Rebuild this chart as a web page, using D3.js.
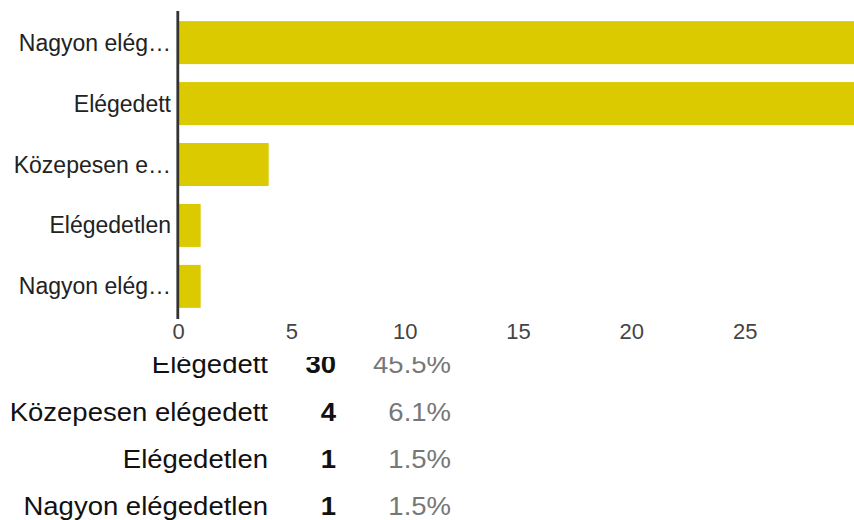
<!DOCTYPE html>
<html><head><meta charset="utf-8">
<script src="https://cdn.jsdelivr.net/npm/d3@7"></script>
<style>html,body{margin:0;padding:0;background:#fff;overflow:hidden}svg{display:block;font-family:"Liberation Sans",Arial,sans-serif}</style>
</head><body>
<svg id="c" width="854" height="520"></svg>
<script>
const categories = ["Nagyon elégedett","Elégedett","Közepesen elégedett","Elégedetlen","Nagyon elégedetlen"];
const shortLabels = ["Nagyon elég…","Elégedett","Közepesen e…","Elégedetlen","Nagyon elég…"];
const counts = [30,30,4,1,1];
const percents = ["45.5%","45.5%","6.1%","1.5%","1.5%"];
const tickValues = [0,5,10,15,20,25];

const svg = d3.select("#c");

// summary table (partially hidden behind the chart, as in the source)
const rowY = d3.scaleLinear().domain([1,4]).range([373.3,515]);
const rows = svg.append("g");
function cell(xr, y, txt, opts){
  rows.append("text").attr("transform",`translate(${xr},${y}) scale(1.1,1)`)
    .attr("text-anchor","end").attr("font-size",25)
    .attr("font-weight",opts.bold?"bold":"normal").attr("fill",opts.fill).text(txt);
}
categories.forEach((c,i)=>{
  if(i===0) return;
  const y = rowY(i);
  cell(268, y, c, {fill:"#111"});
  cell(336, y, counts[i], {fill:"#111", bold:true});
  cell(451, y, percents[i], {fill:"#777"});
});

// chart background covers the top of the table
svg.append("rect").attr("x",0).attr("y",0).attr("width",854).attr("height",357).attr("fill","#fff");

const x = d3.scaleLinear().domain([0,30]).range([178,858]);
const y = d3.scaleBand().domain(categories).range([12,317]).paddingInner(0.295).paddingOuter(0.15);

svg.append("g").selectAll("rect").data(categories).join("rect")
  .attr("x",x(0)).attr("y",d=>y(d))
  .attr("width",(d,i)=>x(counts[i])-x(0)).attr("height",y.bandwidth())
  .attr("fill","#dcca00");

svg.append("line").attr("x1",x(0)-0.2).attr("x2",x(0)-0.2).attr("y1",11).attr("y2",319)
  .attr("stroke","#333").attr("stroke-width",2.8);

svg.append("g").selectAll("text").data(categories).join("text")
  .attr("x",171).attr("y",d=>y(d)+y.bandwidth()/2).attr("dy","0.35em")
  .attr("text-anchor","end").attr("font-size",23).attr("fill","#222")
  .text((d,i)=>shortLabels[i]);

const xAxis = d3.axisBottom(x).tickValues(tickValues).tickSize(0).tickPadding(0);
const ax = svg.append("g").attr("transform","translate(0,323)").call(xAxis);
ax.select(".domain").remove();
ax.selectAll("text").attr("font-size",22).attr("fill","#444")
  .attr("font-family","'Liberation Sans',Arial,sans-serif").attr("dy","0.71em");
</script>
</body></html>
